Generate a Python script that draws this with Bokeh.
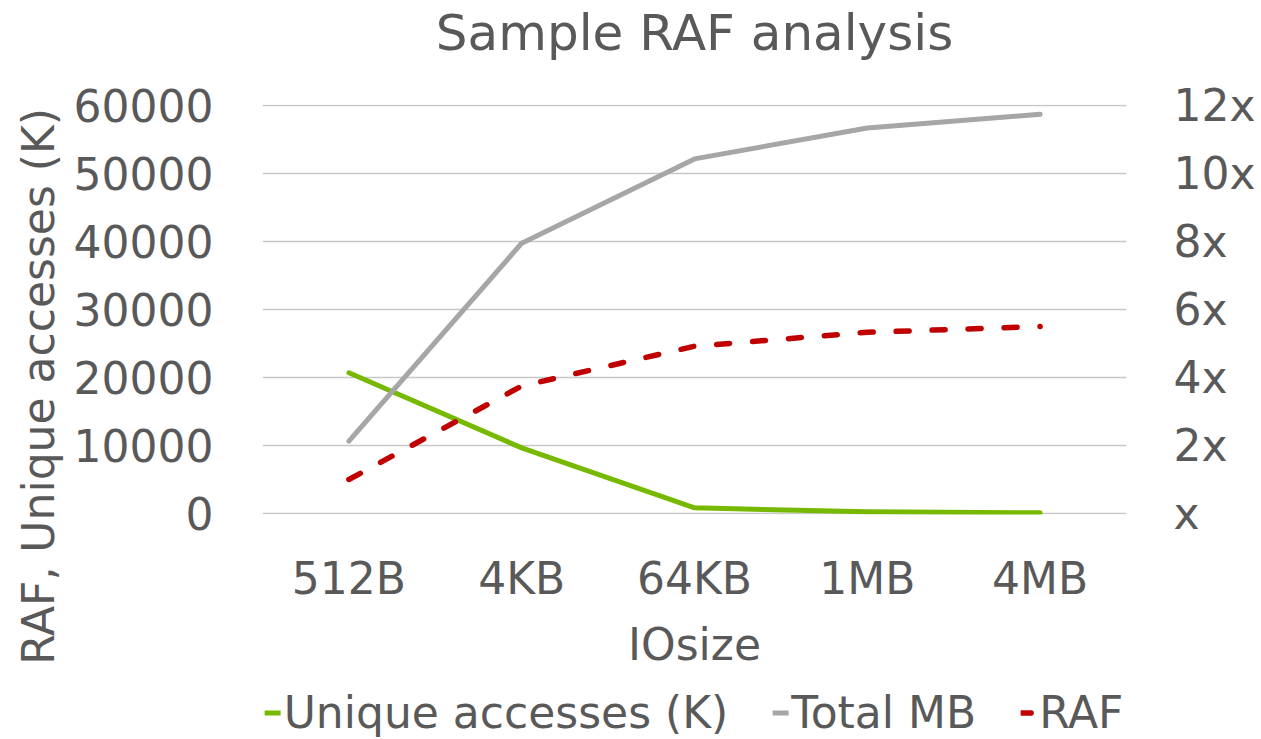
from bokeh.plotting import figure
from bokeh.models import (Range1d, FactorRange, LinearAxis, FixedTicker, CustomJSTickFormatter,
                          Legend, LegendItem, Title)
from bokeh.layouts import column
from bokeh.embed import file_html
from bokeh.resources import INLINE

io_sizes = ["512B", "4KB", "64KB", "1MB", "4MB"]
unique_accesses = [20700, 9650, 830, 240, 100]
total_mb = [10630, 39750, 52150, 56700, 58700]
raf = [1.0, 3.75, 4.92, 5.33, 5.5]
left_ticks = [0, 10000, 20000, 30000, 40000, 50000, 60000]
right_ticks = [0, 2, 4, 6, 8, 10, 12]

FONT = "DejaVu Sans"
TXT = "#595959"
FS = "44px"
NBSP = "\u00a0"
GREEN, GRAY, RED = "#76b900", "#a6a6a6", "#c00000"

p = figure(frame_width=864, frame_height=410, x_range=FactorRange(*io_sizes, range_padding=0),
           y_range=Range1d(-150, 60150), output_backend="svg", toolbar_location=None,
           min_border_left=262, min_border_right=135, min_border_top=103, min_border_bottom=170)
p.title_location = None
p.extra_y_ranges = {"raf": Range1d(-0.03, 12.03)}
p.outline_line_color = None
p.background_fill_color = "white"
p.border_fill_color = "white"

spacer = Title(text=" ", text_font=FONT, text_font_size="26px", standoff=10)
main_title = Title(text="Sample RAF analysis", align="center", vertical_align="bottom", standoff=2,
                   text_font=FONT, text_font_size="50px", text_font_style="normal", text_color=TXT)
p.add_layout(spacer, "above")
p.add_layout(main_title, "above")

p.ygrid.ticker = FixedTicker(ticks=left_ticks)
p.ygrid.grid_line_color = "#c8c8c8"
p.ygrid.grid_line_width = 1.5
p.xgrid.grid_line_color = None

def style_axis(ax):
    ax.axis_line_color = None
    ax.major_tick_line_color = None
    ax.minor_tick_line_color = None
    ax.major_tick_out = 0
    ax.major_tick_in = 0
    ax.major_label_text_font = FONT
    ax.major_label_text_font_size = FS
    ax.major_label_text_color = TXT
    ax.axis_label_text_font = FONT
    ax.axis_label_text_font_size = FS
    ax.axis_label_text_font_style = "normal"
    ax.axis_label_text_color = TXT

style_axis(p.yaxis[0])
p.yaxis[0].ticker = FixedTicker(ticks=left_ticks)
p.yaxis[0].major_label_standoff = 49
# trailing no-break spaces shift the centred label down to span the plot + category area
p.yaxis[0].axis_label = "RAF, Unique accesses (K)" + NBSP * 11
p.yaxis[0].axis_label_standoff = 7

style_axis(p.xaxis[0])
p.xaxis[0].axis_label = "IOsize"
p.xaxis[0].major_label_standoff = 38
p.xaxis[0].axis_label_standoff = 12

right = LinearAxis(y_range_name="raf", ticker=FixedTicker(ticks=right_ticks),
                   formatter=CustomJSTickFormatter(code="return tick == 0 ? 'x' : tick + 'x';"))
style_axis(right)
right.major_label_standoff = 47
p.add_layout(right, "right")

p.line(io_sizes, unique_accesses, line_color=GREEN, line_width=5, line_join="round", line_cap="round")
p.line(io_sizes, total_mb, line_color=GRAY, line_width=5, line_join="round", line_cap="round")
p.line(io_sizes, raf, y_range_name="raf", line_color=RED, line_width=5.5,
       line_dash="13 23", line_join="round", line_cap="round")

# legend strip below the chart (series drawn out of view, only their legend entries show)
lg = figure(width=1261, height=56, x_range=FactorRange(*io_sizes, range_padding=0),
            y_range=Range1d(-2, -1), output_backend="svg", toolbar_location=None,
            x_axis_location=None, y_axis_location=None, min_border=0, min_border_right=130)
lg.title_location = None
lg.outline_line_color = None
lg.grid.visible = False
lg.background_fill_color = "white"
lg.border_fill_color = "white"

l_unique = lg.line(io_sizes, unique_accesses, line_color=GREEN, line_width=5, line_cap="round")
l_total = lg.line(io_sizes, total_mb, line_color=GRAY, line_width=5, line_cap="round")
l_raf = lg.line(io_sizes, raf, line_color=RED, line_width=5.5, line_cap="round", line_dash="10 30")

legend = Legend(items=[LegendItem(label="Unique accesses (K)", renderers=[l_unique]),
                       LegendItem(label="Total MB", renderers=[l_total]),
                       LegendItem(label="RAF", renderers=[l_raf])],
                orientation="horizontal", location="center")
legend.label_text_font = FONT
legend.label_text_font_size = FS
legend.label_text_color = TXT
legend.glyph_width = 16
legend.label_standoff = 3
legend.spacing = 44
legend.border_line_color = None
legend.background_fill_alpha = 0
legend.margin = 0
legend.padding = 0
lg.add_layout(legend, "center")

layout = column(p, lg, spacing=0)
open("out.html", "w").write(file_html(layout, INLINE))
